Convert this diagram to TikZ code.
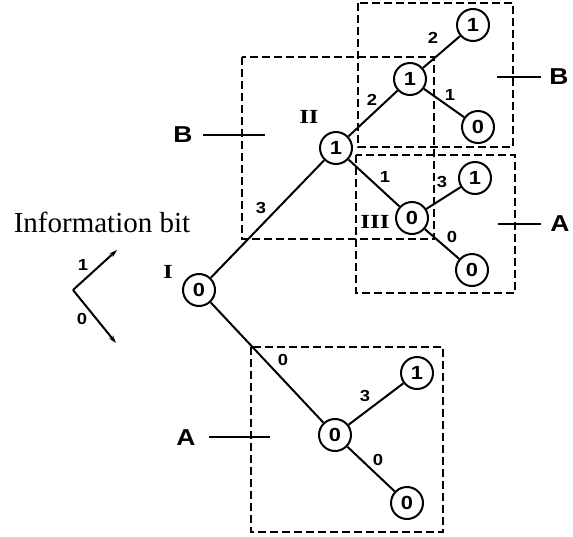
\documentclass[tikz,border=0pt]{standalone}
\usepackage{fontspec}
\setmainfont{Liberation Serif}
\newfontfamily\helv{Liberation Sans}
\usetikzlibrary{arrows.meta}
\newcommand{\wide}[1]{\scalebox{1.15}[1]{#1}}
\newcommand{\wider}[1]{\scalebox{1.25}[1]{#1}}
\begin{document}
\begin{tikzpicture}[x=1pt,y=-1pt,
  state/.style={circle,draw,line width=2pt,minimum size=32pt,inner sep=0pt,font=\helv\bfseries\fontsize{19}{19}\selectfont},
  branch/.style={line width=2pt},
  region/.style={draw,line width=1.8pt,dash pattern=on 8pt off 4pt},
  lbl/.style={font=\helv\bfseries\fontsize{16}{16}\selectfont,inner sep=0pt},
  big/.style={font=\helv\bfseries\fontsize{23}{23}\selectfont,inner sep=0pt},
  roman/.style={font=\bfseries\fontsize{20}{20}\selectfont,inner sep=0pt},
  tick/.style={line width=1.8pt}]
\useasboundingbox (0,0) rectangle (573,536);

% dashed regions
\draw[region] (242,57) rectangle (434,239);
\draw[region] (358,3) rectangle (513,147);
\draw[region] (356,155) rectangle (515,293);
\draw[region] (251,347) rectangle (443,532);

% trellis states
\node[state] (n0) at (199,290) {\wide{0}};
\node[state] (n1) at (336,148) {\wide{1}};
\node[state] (n11) at (410,79) {\wide{1}};
\node[state] (n111) at (473,25) {\wide{1}};
\node[state] (n110) at (478,127) {\wide{0}};
\node[state] (n10) at (412,218) {\wide{0}};
\node[state] (n101) at (475,178) {\wide{1}};
\node[state] (n100) at (472,270) {\wide{0}};
\node[state] (n00) at (335,435) {\wide{0}};
\node[state] (n001) at (417,373) {\wide{1}};
\node[state] (n000) at (407,503) {\wide{0}};

% branches
\draw[branch] (n0) -- (n1);
\draw[branch] (n1) -- (n11);
\draw[branch] (n11) -- (n111);
\draw[branch] (n11) -- (n110);
\draw[branch] (n1) -- (n10);
\draw[branch] (n10) -- (n101);
\draw[branch] (n10) -- (n100);
\draw[branch] (n0) -- (n00);
\draw[branch] (n00) -- (n001);
\draw[branch] (n00) -- (n000);

% branch labels
\node[lbl] (e1) at (261,208) {\wide{3}};
\node[lbl] (e2) at (372,100) {\wide{2}};
\node[lbl] (e3) at (433,38) {\wide{2}};
\node[lbl] (e4) at (450,95) {\wide{1}};
\node[lbl] (e5) at (385,177) {\wide{1}};
\node[lbl] (e6) at (442,182) {\wide{3}};
\node[lbl] (e7) at (452,237) {\wide{0}};
\node[lbl] (e8) at (283,360) {\wide{0}};
\node[lbl] (e9) at (365,396) {\wide{3}};
\node[lbl] (e10) at (378,460) {\wide{0}};

% state numerals
\node[roman] (rI) at (168,272) {\wider{I}};
\node[roman] (rII) at (309,117) {\wider{II}};
\node[roman] (rIII) at (375,222) {\wider{III}};

% region labels with ticks
\node[big] (bL) at (183,135) {\wide{B}};
\coordinate (sbL) at (203,135);
\coordinate (tbL) at (265,135);
\draw[tick] (sbL) -- (tbL);
\node[big] (bR) at (559,77) {\wide{B}};
\coordinate (tbR) at (497,77);
\coordinate (ubR) at (541,77);
\draw[tick] (tbR) -- (ubR);
\node[big] (aR) at (560,224) {\wide{A}};
\coordinate (taR) at (498,224);
\coordinate (uaR) at (541,224);
\draw[tick] (taR) -- (uaR);
\node[big] (aL) at (186,438) {\wide{A}};
\coordinate (saL) at (209,437);
\coordinate (taL) at (270,437);
\draw[tick] (saL) -- (taL);

% legend
\node[font=\fontsize{29}{29}\selectfont,inner sep=0pt] (info) at (102,222) {Information bit};
\coordinate (lv) at (73,290);
\coordinate (lu) at (117,250);
\coordinate (ld) at (116,343);
\draw[branch,-{Stealth[length=8pt,width=5pt]}] (lv) -- (lu);
\draw[branch,-{Stealth[length=8pt,width=5pt]}] (lv) -- (ld);
\node[lbl] (l1) at (83,265) {\wide{1}};
\node[lbl] (l0) at (82,319) {\wide{0}};
\end{tikzpicture}
\end{document}
